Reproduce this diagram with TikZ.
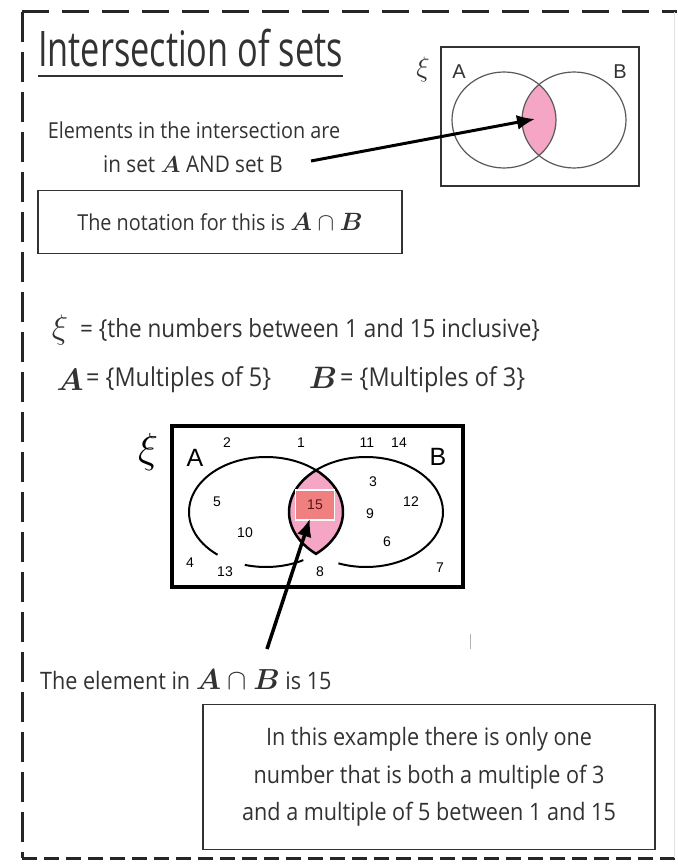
\documentclass[tikz,border=0pt]{standalone}
\usepackage{fix-cm}
\usepackage{amsmath,bm}
\usepackage{fontspec}
\setmainfont{Open Sans}[FakeStretch=0.9]
\newfontfamily\titlefont{Open Sans}[FakeStretch=0.7]
\newfontfamily\vennfont{Liberation Sans}
\usetikzlibrary{positioning,arrows.meta}

\definecolor{inkgrey}{RGB}{50,50,50}
\definecolor{lenspink}{RGB}{244,166,196}
\definecolor{salmon}{RGB}{240,128,128}
\definecolor{darkred}{RGB}{90,20,20}

\newcommand{\fs}[1]{\fontsize{#1}{1.2\dimexpr#1pt\relax}\selectfont}
\newcommand{\setAB}[1]{{\fs{#1}$\bm{A}\cap\bm{B}$}}

\tikzset{
  txt/.style={inner sep=0pt, text=inkgrey},
  notebox/.style={draw=inkgrey, line width=1.6pt, inner sep=0pt},
  num/.style={inner sep=0pt, font=\vennfont\fs{14}},
  frame/.style={line width=3pt, draw=black!85},
  pointer/.style={-{Latex[length=18pt,width=15pt]}, line width=3pt},
}

\begin{document}
\begin{tikzpicture}[x=1pt,y=-1pt]
        \useasboundingbox (0,0) rectangle (677,866);
        % outer dashed frame
        \draw [frame, dash pattern=on 27pt off 13pt] (22,12) -- (677,12);
        \draw [frame, dash pattern=on 30pt off 10pt] (22,12) -- (22,858);
        \draw [frame, dash pattern=on 15pt off 7pt] (22,858) -- (677,858);
        \draw [gray!25, line width=0.8pt] (674,12) -- (674,858);

        % title
        \node[txt, anchor=base west, font=\titlefont\fs{49}] (title) at (38,67) {Intersection of sets};
        \draw [line width=1.8pt, inkgrey] ([yshift=-9pt]title.base west) -- ([yshift=-9pt]title.base east);

        \node[txt, font=\fs{22}] (elem1) at (194,130) {Elements in the intersection are};
        \node[txt, font=\fs{23}] (elem2) at (193,164) {in set $\bm{A}$ AND set B};
        \node[notebox, minimum width=364pt, minimum height=63pt, text=inkgrey, font=\fs{22}] (notation) at (220,222) {The notation for this is \setAB{25}};

        % small Venn diagram
        \draw [line width=2.2pt, inkgrey] (441,47) rectangle (639,186);
        \fill [lenspink] (539,84.5) arc[start angle=-132.3, end angle=-227.7, x radius=52, y radius=48]
                arc[start angle=47.7, end angle=-47.7, x radius=52, y radius=48] -- cycle;
        \draw [gray!70!black, line width=1.2pt] (504,120) ellipse [x radius=52, y radius=48];
        \draw [gray!70!black, line width=1.2pt] (574,120) ellipse [x radius=52, y radius=48];
        \node[txt, font=\fs{28}] (xiS) at (423,70) {$\xi$};
        \node[txt, font=\vennfont\fs{20}] (labA) at (459,72) {A};
        \node[txt, font=\vennfont\fs{20}] (labB) at (620,72) {B};
        \coordinate (lensS) at (535,119);
        \draw [pointer] ([xshift=28pt,yshift=3pt]elem2.east) -- (lensS);

        % definitions
        \node[txt, font=\fs{34}] (xiD) at (60,330) {$\xi$};
        \node[txt, anchor=west, font=\fs{25}] (defU) at (80,330) {= \{the numbers between 1 and 15 inclusive\}};
        \node[txt, font=\fs{31}] (setA) at (70,380) {$\bm{A}$};
        \node[txt, anchor=west, font=\fs{26}] (defA) at (86,380) {= \{Multiples of 5\}};
        \node[txt, font=\fs{31}] (setB) at (323,378) {$\bm{B}$};
        \node[txt, anchor=west, font=\fs{26}] (defB) at (340,380) {= \{Multiples of 3\}};

        % large Venn diagram
        \draw [line width=4pt] (172,426) rectangle (463,587);
        \node[font=\fs{42}, inner sep=0pt] (xiL) at (148,452) {$\xi$};
        \node[font=\vennfont\fs{25}, inner sep=0pt] (bigA) at (195,458) {A};
        \node[font=\vennfont\fs{25}, inner sep=0pt] (bigB) at (438,457) {B};
        \filldraw [fill=lenspink, draw=black, line width=2.5pt] (316,470.2)
                arc[start angle=-130.5, end angle=-229.5, x radius=77, y radius=55]
                arc[start angle=49.5, end angle=-49.5, x radius=77, y radius=55] -- cycle;
        \begin{scope}[shift={(266,512)}]
                \draw [line width=2pt] (-49.5:77 and 55) arc[start angle=-49.5, end angle=-231, x radius=77, y radius=55];
                \draw [line width=2pt] (-254:77 and 55) arc[start angle=-254, end angle=-299, x radius=77, y radius=55];
        \end{scope}
        \begin{scope}[shift={(366,512)}]
                \draw [line width=2pt] (-130.5:77 and 55) arc[start angle=-130.5, end angle=111, x radius=77, y radius=55];
        \end{scope}
        \node[draw=white, fill=salmon, line width=1.2pt, minimum width=39pt, minimum height=30pt,
              inner sep=0pt, text=darkred, font=\vennfont\fs{14}] (fifteen) at (315,505) {15};
        \foreach \n/\x/\y in {2/227/443, 1/301/443, 11/367/443, 14/399/443, 3/373/482, 5/217/502,
                12/411/502, 9/370/514, 10/245/533, 6/387/542, 4/190/563, 13/225/572, 8/320/572, 7/440/568}
                \node[num] (n\n) at (\x,\y) {\n};
        \coordinate (tail) at (267,649);
        \draw [pointer, line width=3.5pt] (tail) -- ([xshift=-5pt,yshift=2pt]fifteen.south);
        \draw [gray!60, line width=1pt] (470,634) -- (470,649);

        % conclusion
        \node[txt, anchor=west, font=\fs{24}] (element) at (40,680) {The element in \setAB{29} is 15};
        \node[notebox, minimum width=452pt, minimum height=145pt, align=center, text=inkgrey,
              font=\fontsize{24}{37.5}\selectfont] (summary) at (429,777)
              {In this example there is only one\\number that is both a multiple of 3\\and a multiple of 5 between 1 and 15};
\end{tikzpicture}
\end{document}
